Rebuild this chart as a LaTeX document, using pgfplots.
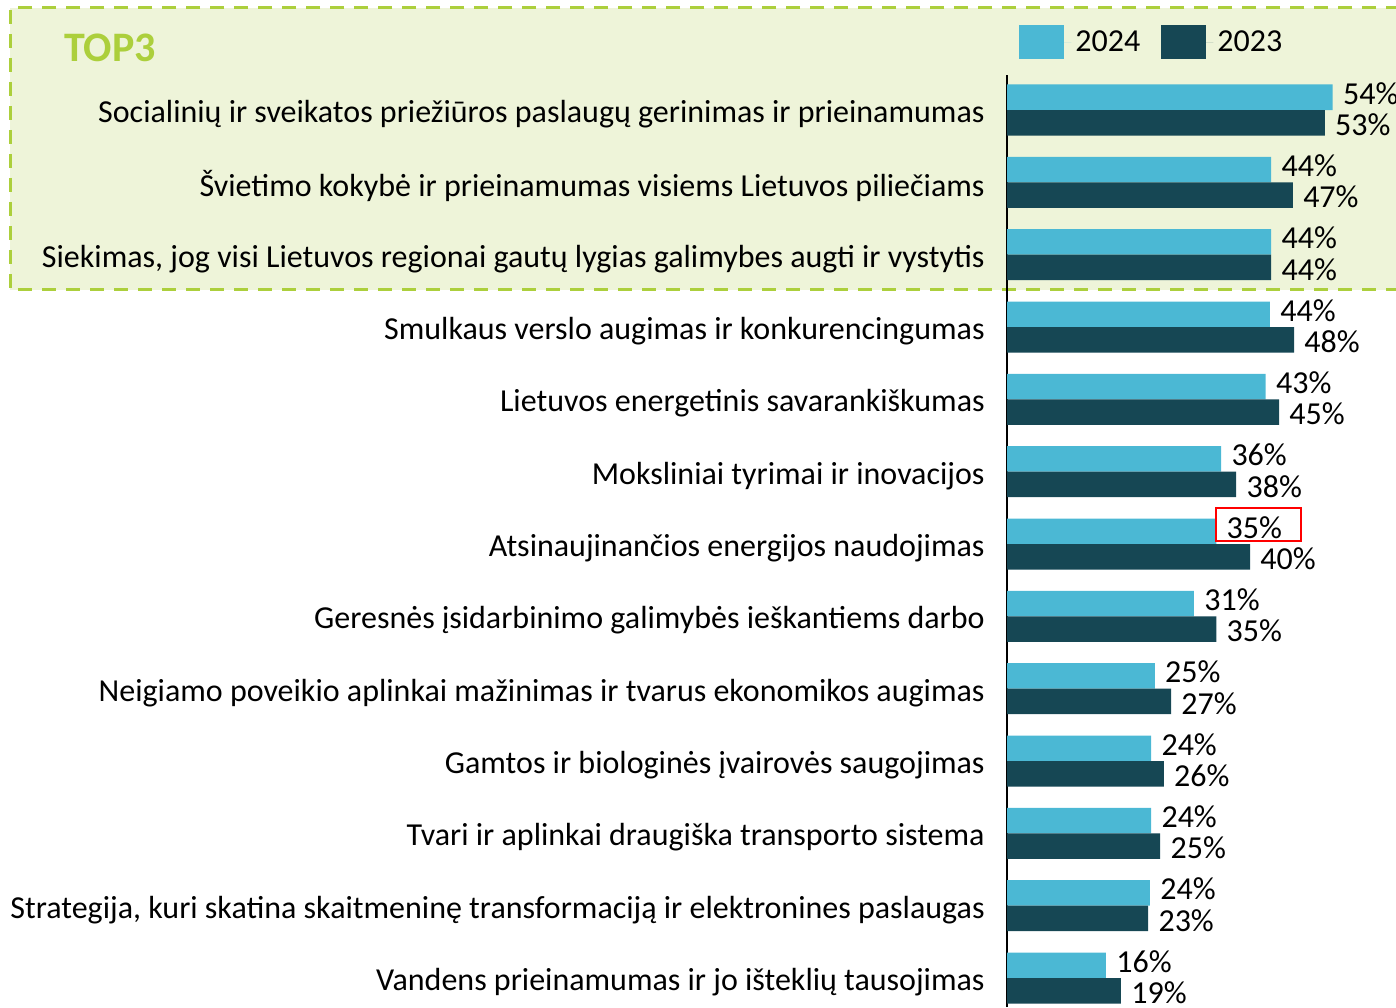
\documentclass[border=0pt]{standalone}
\usepackage{pgfplots}
\pgfplotsset{compat=1.18}
\usepackage{pgfplotstable}
\usepackage{fontspec}
\setmainfont{Carlito}
\definecolor{c24}{RGB}{75,184,212}
\definecolor{c23}{RGB}{22,71,84}
\definecolor{topfill}{RGB}{238,244,217}
\definecolor{topline}{RGB}{172,207,60}
\newcommand{\lbl}{\fontsize{16}{19}\selectfont}

% idx (0 = bottom row), bar length and label for 2024 and 2023
\pgfplotstableread{
idx b24  l24 b23  l23
12  54.0 54  52.7 53
11  43.8 44  47.4 47
10  43.8 44  43.8 44
9   43.6 44  47.6 48
8   42.9 43  45.1 45
7   35.5 36  38.0 38
6   34.7 35  40.3 40
5   31.0 31  34.7 35
4   24.5 25  27.2 27
3   23.9 24  26.0 26
2   23.9 24  25.4 25
1   23.7 24  23.4 23
0   16.4 16  18.9 19
}\datatable

\begin{document}
\begin{tikzpicture}
\useasboundingbox (0pt,0pt) rectangle (698pt,503.5pt);
\clip (0pt,0pt) rectangle (698pt,503.5pt);
% TOP3 band (pixel coordinates / 2)
\begin{scope}[x=0.5pt,y=0.5pt]
\fill[topfill] (10,717) rectangle (1400,999);
\draw[topline, line width=1.5pt, dash pattern=on 7pt off 5pt]
  (1400,999) -- (10,999) -- (10,717) -- (1400,717);
\node[font=\fontsize{21}{25}\selectfont\bfseries, text=topline] at (110,959) {TOP3};
\end{scope}

\begin{axis}[
  at={(503.5pt,0pt)}, anchor=south west,
  scale only axis, width=194.5pt, height=466pt,
  xbar, bar width=12.75pt,
  xmin=0, xmax=64.5, ymin=-0.40, ymax=12.484,
  axis x line=none, axis y line*=left,
  axis line style={black, line width=1pt, -},
  xtick=\empty,
  ytick={0,...,12},
  yticklabels={
    Vandens prieinamumas ir jo išteklių tausojimas,
    {Strategija, kuri skatina skaitmeninę transformaciją ir elektronines paslaugas},
    Tvari ir aplinkai draugiška transporto sistema,
    Gamtos ir biologinės įvairovės saugojimas,
    Neigiamo poveikio aplinkai mažinimas ir tvarus ekonomikos augimas,
    Geresnės įsidarbinimo galimybės ieškantiems darbo,
    Atsinaujinančios energijos naudojimas,
    Moksliniai tyrimai ir inovacijos,
    Lietuvos energetinis savarankiškumas,
    Smulkaus verslo augimas ir konkurencingumas,
    {Siekimas, jog visi Lietuvos regionai gautų lygias galimybes augti ir vystytis},
    Švietimo kokybė ir prieinamumas visiems Lietuvos piliečiams,
    Socialinių ir sveikatos priežiūros paslaugų gerinimas ir prieinamumas},
  major tick length=0pt,
  yticklabel style={font=\lbl, anchor=east, inner sep=0pt, xshift=-11pt, yshift=-2pt},
  clip=false,
  point meta=explicit,
  nodes near coords={\pgfmathprintnumber[assume math mode=true]{\pgfplotspointmeta}\%},
  every node near coord/.append style={font=\lbl, anchor=west, inner sep=0pt, xshift=5pt},
  legend columns=2,
  legend style={at={(0.031,1.035)}, anchor=west, draw=none, fill=none,
    inner sep=0pt, font=\lbl,
    /tikz/every even column/.append style={column sep=8.5pt}},
  legend image code/.code={\fill[#1] (0pt,-8.5pt) rectangle (22.5pt,8.5pt);
    \path (0pt,0pt) -- (26pt,0pt);},
]
\addplot[fill=c24, draw=none, bar shift=6.375pt,
  every node near coord/.append style={yshift=2pt}]
  table[y=idx, x=b24, meta=l24] {\datatable};
\addlegendentry{2024}
\addplot[fill=c23, draw=none, bar shift=-6.375pt,
  every node near coord/.append style={yshift=-1pt}]
  table[y=idx, x=b23, meta=l23] {\datatable};
\addlegendentry{2023}
\end{axis}
\draw[red, line width=1pt] (608pt,233pt) rectangle (650.5pt,249.5pt);
\end{tikzpicture}
\end{document}
